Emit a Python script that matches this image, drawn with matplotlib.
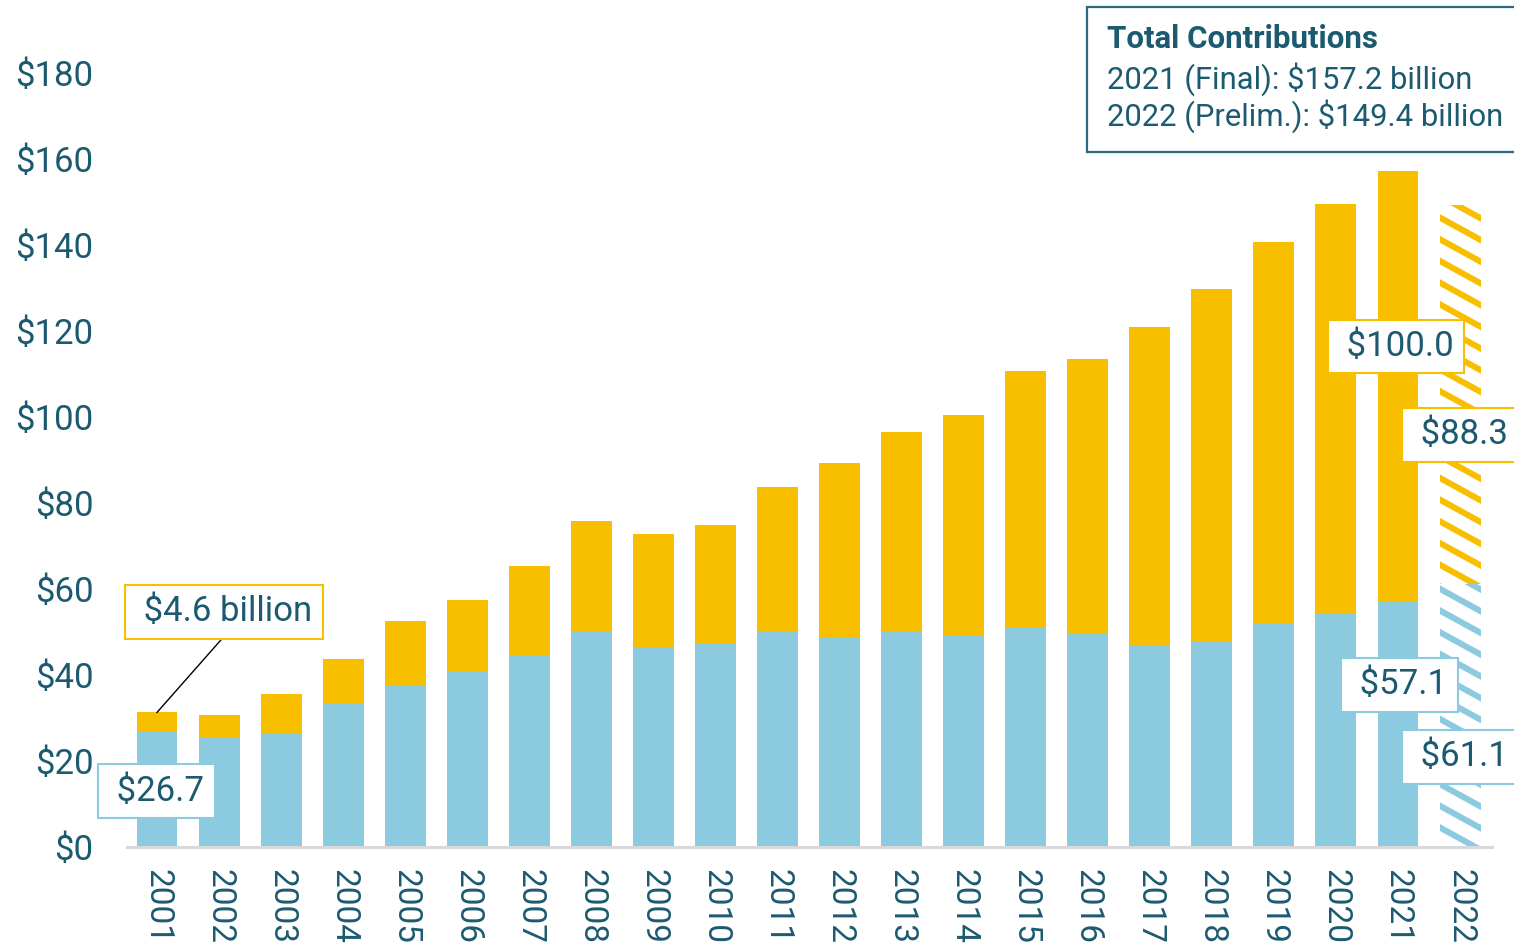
import matplotlib
matplotlib.use("Agg")
import matplotlib.pyplot as plt
from matplotlib.patches import Rectangle
from matplotlib.lines import Line2D
from matplotlib.transforms import IdentityTransform

plt.rcParams['font.family'] = ['Roboto', 'DejaVu Sans']

years = [str(y) for y in range(2001, 2023)]
individual = [26.7, 25.5, 26.3, 33.5, 37.5, 41.0, 44.5, 50.1, 46.3, 47.3, 50.1, 48.7,
              50.1, 49.1, 51.0, 49.6, 46.8, 47.7, 52.2, 54.3, 57.1, 61.1]
employer = [4.6, 5.2, 9.3, 10.3, 15.1, 16.5, 20.9, 25.6, 26.6, 27.7, 33.7, 40.5,
            46.3, 51.3, 59.6, 64.0, 74.1, 82.0, 88.5, 95.2, 100.0, 88.3]
prelim = [False] * 21 + [True]
total_labels = ['2021 (Final)', '2022 (Prelim.)']
total_values = [157.2, 149.4]
yticks = [0, 20, 40, 60, 80, 100, 120, 140, 160, 180]

TEAL = '#1c5a70'
BLUE = '#8ccbdf'
YELLOW = '#f8bf00'

fig = plt.figure(figsize=(15.14, 9.51), dpi=100)
ax = fig.add_axes([127/1514, 1 - 847/951, (1492 - 127)/1514, (847 - 73)/951])
ax.set_xlim(-0.4835, 21.515)
ax.set_ylim(0, 180)

x = list(range(len(years)))
w = 0.66
hatched = []
for i in x:
    if prelim[i]:
        b1 = ax.bar(i, individual[i], width=w, color='white', linewidth=0)
        b2 = ax.bar(i, employer[i], bottom=individual[i], width=w, color='white',
                    linewidth=0)
        hatched.append((b1.patches[0], BLUE))
        hatched.append((b2.patches[0], YELLOW))
    else:
        ax.bar(i, individual[i], width=w, color=BLUE, linewidth=0)
        ax.bar(i, employer[i], bottom=individual[i], width=w, color=YELLOW, linewidth=0)

ax.set_xlim(-0.4835, 21.515)
ax.set_ylim(0, 180)

# diagonal hatching for preliminary year
slope = 0.55
spacing = 21.7
for patch, col in hatched:
    bb = patch.get_window_extent()
    wpx = bb.x1 - bb.x0
    c = bb.y0 - 2
    while c < bb.y1 + slope * wpx + spacing:
        ln = Line2D([bb.x0 - 10, bb.x1 + 10],
                    [c + slope * 10, c - slope * (wpx + 10)],
                    transform=IdentityTransform(), color=col, linewidth=4.4,
                    solid_capstyle='butt', zorder=1.5)
        ax.add_artist(ln)
        ln.set_clip_path(patch.get_path(), patch.get_transform())
        c += spacing

ax.set_yticks(yticks)
ax.set_yticklabels([f'${v}' for v in yticks])
ax.set_xticks(x)
ax.set_xticklabels(years, rotation=270)
ax.tick_params(axis='y', length=0, pad=24, labelsize=25, labelcolor=TEAL)
ax.tick_params(axis='x', length=0, pad=16, labelsize=24, labelcolor=TEAL)
for s in ['top', 'right', 'left']:
    ax.spines[s].set_visible(False)
ax.spines['bottom'].set_color('#d9d9d9')
ax.spines['bottom'].set_linewidth(2.2)

def label(xp, yp, txt, edge):
    ax.text(xp, yp, ' ' + txt, ha='center', va='center', fontsize=25, color=TEAL,
            zorder=5, clip_on=False,
            bbox=dict(boxstyle='square,pad=0.3', facecolor='white',
                      edgecolor=edge, linewidth=1.5))

# annotations
ax.plot([0, 1.07], [individual[0] + employer[0], 48.8], color='black', lw=1, zorder=4)
label(1.08, 54.7, f'${employer[0]} billion', YELLOW)
label(-0.01, 13.0, f'${individual[0]}', BLUE)
label(19.97, 116.4, f'${employer[20]:.1f}', YELLOW)
label(21.0, 95.9, f'${employer[21]}', YELLOW)
label(20.02, 37.7, f'${individual[20]}', BLUE)
label(21.0, 21.0, f'${individual[21]}', BLUE)

# Total contributions box
fig.patches.append(Rectangle((1087/1514, 1 - 152/951), 0.4, 145/951,
                             transform=fig.transFigure, facecolor='white',
                             edgecolor='#2a6b80', linewidth=1.6))
fig.text(1107/1514, 1 - 48/951, 'Total Contributions', fontsize=22.5,
         fontweight='bold', color=TEAL, va='baseline')
fig.text(1107/1514, 1 - 89/951, f'{total_labels[0]}: ${total_values[0]:.1f} billion',
         fontsize=22.3, color=TEAL, va='baseline')
fig.text(1107/1514, 1 - 126/951, f'{total_labels[1]}: ${total_values[1]:.1f} billion',
         fontsize=22.3, color=TEAL, va='baseline')

fig.savefig('out.png', dpi=100)
